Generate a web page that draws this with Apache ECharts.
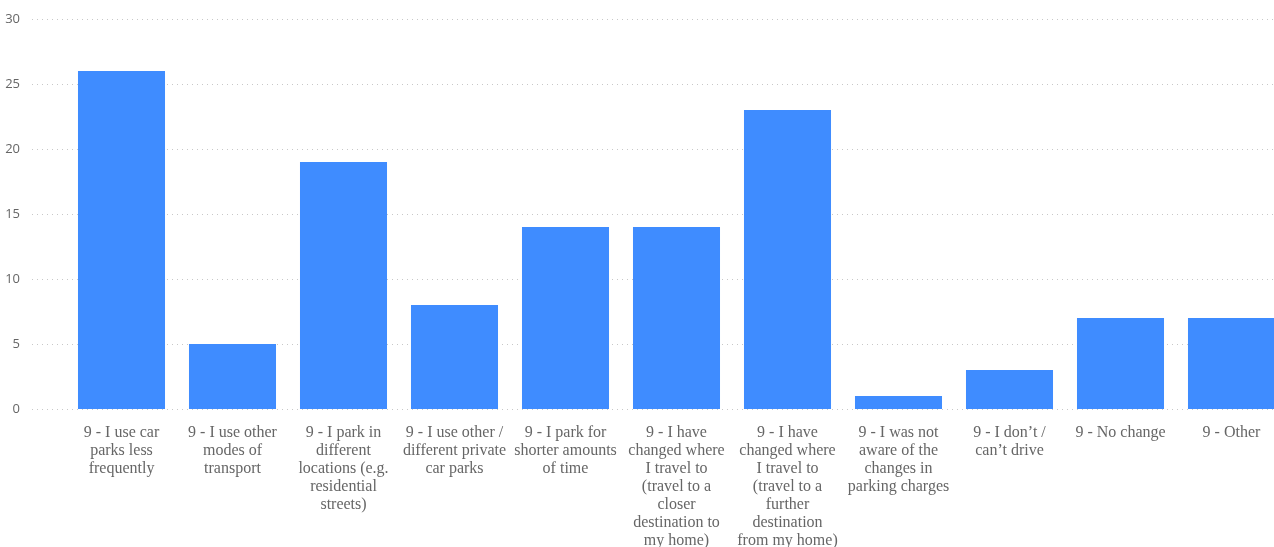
<!DOCTYPE html>
<html>
<head>
<meta charset="utf-8">
<script src="https://cdn.jsdelivr.net/npm/echarts@6/dist/echarts.min.js"></script>
<style>
html,body{margin:0;padding:0;background:#fff;}
#chart{width:1274px;height:547px;}
</style>
</head>
<body>
<div id="chart"></div>
<script>
const categories = [
  "9 - I use car\nparks less\nfrequently",
  "9 - I use other\nmodes of\ntransport",
  "9 - I park in\ndifferent\nlocations (e.g.\nresidential\nstreets)",
  "9 - I use other /\ndifferent private\ncar parks",
  "9 - I park for\nshorter amounts\nof time",
  "9 - I have\nchanged where\nI travel to\n(travel to a\ncloser\ndestination to\nmy home)",
  "9 - I have\nchanged where\nI travel to\n(travel to a\nfurther\ndestination\nfrom my home)",
  "9 - I was not\naware of the\nchanges in\nparking charges",
  "9 - I don’t /\ncan’t drive",
  "9 - No change",
  "9 - Other"
];
const values = [26, 5, 19, 8, 14, 14, 23, 1, 3, 7, 7];
const yMin = 0, yMax = 30, yInterval = 5;

const chart = echarts.init(document.getElementById('chart'), null, {renderer: 'canvas'});
chart.setOption({
  animation: false,
  grid: [
    {left: 32, right: 0, top: 19, bottom: 138, containLabel: false, outerBoundsMode: 'none'},
    {left: 66, width: 1221, top: 19, bottom: 138, containLabel: false, outerBoundsMode: 'none'}
  ],
  xAxis: [
    {gridIndex: 0, type: 'category', data: categories, show: false},
    {gridIndex: 1, type: 'category', data: categories,
     axisLine: {show: false}, axisTick: {show: false},
     axisLabel: {interval: 0, margin: 15, color: '#666', fontFamily: 'Liberation Serif', fontSize: 16, lineHeight: 18, align: 'center', verticalAlign: 'top'}}
  ],
  yAxis: [
    {gridIndex: 0, type: 'value', min: yMin, max: yMax, interval: yInterval,
     axisLine: {show: false}, axisTick: {show: false},
     axisLabel: {margin: 12, color: '#666', fontFamily: 'Open Sans', fontSize: 13},
     splitLine: {lineStyle: {type: [1, 4], color: '#c8c8c8', width: 1}}},
    {gridIndex: 1, type: 'value', min: yMin, max: yMax, interval: yInterval, show: false,
     splitLine: {show: false}}
  ],
  series: [{
    type: 'bar', xAxisIndex: 1, yAxisIndex: 1,
    data: values,
    barCategoryGap: '21.6%',
    itemStyle: {color: '#3F8CFF'}
  }]
});
</script>
</body>
</html>
